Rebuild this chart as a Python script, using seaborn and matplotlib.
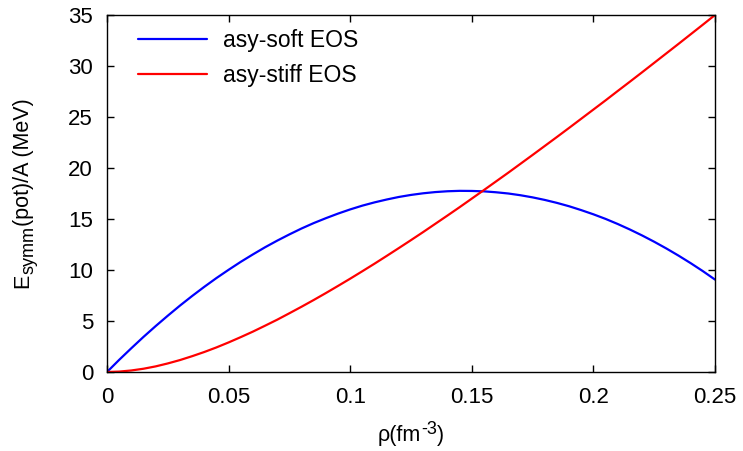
import numpy as np
import pandas as pd
import matplotlib
matplotlib.use("Agg")
import matplotlib.pyplot as plt
import seaborn as sns

# data (rho in fm^-3, E in MeV)
rho = [0.000, 0.005, 0.010, 0.015, 0.020, 0.025, 0.030, 0.035, 0.040, 0.045,
       0.050, 0.055, 0.060, 0.065, 0.070, 0.075, 0.080, 0.085, 0.090, 0.095,
       0.100, 0.105, 0.110, 0.115, 0.120, 0.125, 0.130, 0.135, 0.140, 0.145,
       0.150, 0.155, 0.160, 0.165, 0.170, 0.175, 0.180, 0.185, 0.190, 0.195,
       0.200, 0.205, 0.210, 0.215, 0.220, 0.225, 0.230, 0.235, 0.240, 0.245,
       0.250]
soft = [0.00, 1.19, 2.33, 3.44, 4.50, 5.52, 6.51, 7.45, 8.35, 9.21,
        10.02, 10.80, 11.53, 12.23, 12.88, 13.49, 14.07, 14.60, 15.08, 15.53,
        15.94, 16.31, 16.63, 16.91, 17.16, 17.36, 17.52, 17.64, 17.72, 17.76,
        17.75, 17.71, 17.62, 17.50, 17.33, 17.12, 16.87, 16.58, 16.25, 15.87,
        15.46, 15.01, 14.51, 13.97, 13.39, 12.77, 12.11, 11.41, 10.67, 9.89,
        9.06]
stiff = [0.00, 0.04, 0.15, 0.32, 0.55, 0.84, 1.17, 1.55, 1.96, 2.41,
         2.90, 3.42, 3.96, 4.54, 5.13, 5.76, 6.40, 7.06, 7.74, 8.44,
         9.15, 9.88, 10.62, 11.38, 12.15, 12.93, 13.72, 14.53, 15.34, 16.16,
         17.00, 17.84, 18.69, 19.54, 20.41, 21.28, 22.16, 23.04, 23.93, 24.83,
         25.73, 26.63, 27.55, 28.46, 29.38, 30.31, 31.24, 32.17, 33.11, 34.05,
         35.00]
labels = ["asy-soft EOS", "asy-stiff EOS"]
xticks = [0, 0.05, 0.1, 0.15, 0.2, 0.25]
xticklabels = ["0", "0.05", "0.1", "0.15", "0.2", "0.25"]
yticks = [0, 5, 10, 15, 20, 25, 30, 35]

df = pd.DataFrame({
    "rho": rho + rho,
    "E": soft + stiff,
    "eos": [labels[0]] * len(rho) + [labels[1]] * len(rho),
})

sns.set_theme(style="ticks")
plt.rcParams["font.family"] = ["Liberation Sans", "DejaVu Sans"]
plt.rcParams["text.color"] = "black"

W, H = 743, 451
fig = plt.figure(figsize=(W / 100, H / 100), dpi=100)
ax = fig.add_axes([107 / W, 1 - 372 / H, (715 - 107) / W, (372 - 15) / H])

sns.lineplot(data=df, x="rho", y="E", hue="eos",
             palette={labels[0]: "#0000ff", labels[1]: "#ff0000"},
             linewidth=1.6, ax=ax, legend=True)

ax.set_xlim(0, 0.25)
ax.set_ylim(0, 35)
ax.set_xticks(xticks)
ax.set_xticklabels(xticklabels)
ax.set_yticks(yticks)
ax.tick_params(direction="in", length=5, width=1, top=True, right=True,
               labelsize=16, colors="black")
ax.tick_params(axis="x", pad=11)
ax.tick_params(axis="y", pad=10)
for s in ax.spines.values():
    s.set_linewidth(1.0)
    s.set_color("black")
ax.set_xlabel("")
ax.set_ylabel("")

r = fig.canvas.get_renderer()

# y label built from pieces so the subscript keeps a gnuplot-like size
ypieces = [("E", 15.5, 0.0), ("symm", 13.0, 5.0), ("(pot)/A (MeV)", 15.5, 0.0)]
xb = 28.5  # baseline, pixels from the left
ytexts = [fig.text((xb + dx) / W, 0.5, txt, rotation=90, rotation_mode="anchor",
                   ha="left", va="baseline", fontsize=size, color="black")
          for txt, size, dx in ypieces]
lens = [t.get_window_extent(r).height for t in ytexts]
pos = H - (15 + 372) / 2 - sum(lens) / 2
for t, L in zip(ytexts, lens):
    t.set_position((t.get_position()[0], pos / H))
    pos += L

# x label built from pieces (superscript)
xpieces = [("ρ(fm", 15.5, 0.0), ("-3", 13.0, 7.0), (")", 15.5, 0.0)]
yb = H - 441  # baseline, pixels from the bottom
xtexts = [fig.text(0.5, (yb + dy) / H, txt, ha="left", va="baseline",
                   fontsize=size, color="black")
          for txt, size, dy in xpieces]
lens = [t.get_window_extent(r).width for t in xtexts]
pos = (107 + 715) / 2 - sum(lens) / 2
for t, L in zip(xtexts, lens):
    t.set_position((pos / W, t.get_position()[1]))
    pos += L

leg = ax.legend(loc="upper left", frameon=False, fontsize=16.5,
                handlelength=3.0, handletextpad=0.7, borderaxespad=0.2,
                labelspacing=0.55, bbox_to_anchor=(0.028, 1.0))
for t in leg.get_texts():
    t.set_color("black")

fig.savefig("out.png", dpi=100)
